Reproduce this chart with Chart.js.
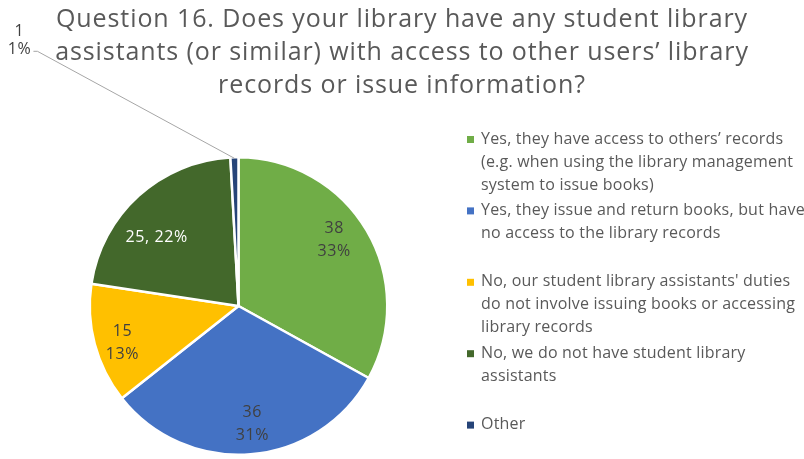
<!DOCTYPE html>
<html>
<head>
<meta charset="utf-8">
<script src="https://cdn.jsdelivr.net/npm/chart.js@4/dist/chart.umd.min.js"></script>
<style>
  html, body { margin: 0; padding: 0; background: #fff; }
  #wrap { width: 804px; height: 459px; position: relative; }
</style>
</head>
<body>
<div id="wrap"><canvas id="pieChart"></canvas></div>
<script>
// Dados do gráfico
const categorias = [
    ['Yes, they have access to others’ records', '(e.g. when using the library management', 'system to issue books)'],
    ['Yes, they issue and return books, but have', 'no access to the library records'],
    ["No, our student library assistants' duties", 'do not involve issuing books or accessing', 'library records'],
    ['No, we do not have student library', 'assistants'],
    ['Other']
];
const respostas = [38, 36, 15, 25, 1];
const cores = ['#70AD47', '#4472C4', '#FFC000', '#43682B', '#264478'];
const titulo = [
    'Question 16. Does your library have any student library',
    'assistants (or similar) with access to other users’ library',
    'records or issue information?'
];

const FONTE = '"Open Sans", "Noto Sans", sans-serif';
const total = respostas.reduce((acc, v) => acc + v, 0);

/**
 * Desenha título, legenda e rótulos das fatias
 */
const extrasPlugin = {
    id: 'extras',
    afterDraw(chart) {
        const ctx = chart.ctx;
        const meta = chart.getDatasetMeta(0);
        ctx.save();

        // Título
        ctx.fillStyle = '#595959';
        ctx.font = '25px ' + FONTE;
        ctx.letterSpacing = '0.9px';
        ctx.textAlign = 'center';
        ctx.textBaseline = 'middle';
        titulo.forEach((linha, i) => ctx.fillText(linha, 402, 20 + i * 33));

        // Legenda
        ctx.font = '16px ' + FONTE;
        ctx.letterSpacing = '0.2px';
        ctx.textAlign = 'left';
        categorias.forEach((linhas, i) => {
            const y = 139 + i * 71.4;
            ctx.fillStyle = cores[i];
            ctx.fillRect(467, y - 3, 7, 7);
            ctx.fillStyle = '#595959';
            linhas.forEach((l, j) => ctx.fillText(l, 481, y + j * 23));
        });

        // Rótulos de dados
        ctx.letterSpacing = '0.6px';
        meta.data.forEach((arc, i) => {
            const p = arc.getProps(['x', 'y', 'startAngle', 'endAngle', 'outerRadius'], true);
            const meio = (p.startAngle + p.endAngle) / 2;
            const valor = respostas[i];
            const pct = Math.round(valor / total * 100) + '%';
            ctx.font = '16px ' + FONTE;
            ctx.textAlign = 'center';
            if (valor / total < 0.03) {
                // rótulo externo com linha de chamada
                const ex = p.x + Math.cos(meio) * p.outerRadius;
                const ey = p.y + Math.sin(meio) * p.outerRadius;
                const lx = ex - 197, ly = ey - 106;
                ctx.strokeStyle = '#A6A6A6';
                ctx.lineWidth = 1;
                ctx.beginPath();
                ctx.moveTo(ex, ey + 1);
                ctx.lineTo(lx, ly);
                ctx.lineTo(lx - 4, ly);
                ctx.stroke();
                ctx.fillStyle = '#404040';
                ctx.fillText(String(valor), lx - 18, ly - 20);
                ctx.fillText(pct, lx - 18, ly - 2);
                return;
            }
            const r = p.outerRadius * (i === 3 ? 0.74 : 0.8);
            const cx = p.x + Math.cos(meio - 0.06) * r;
            const cy = p.y + Math.sin(meio - 0.06) * r;
            if (i === 3) {
                ctx.fillStyle = '#FFFFFF';
                ctx.fillText(valor + ', ' + pct, cx - 3, cy + 8);
            } else {
                ctx.fillStyle = '#404040';
                ctx.fillText(String(valor), cx - 3, cy - 11.5);
                ctx.fillText(pct, cx - 3, cy + 11.5);
            }
        });
        ctx.restore();
    }
};

new Chart(document.getElementById('pieChart'), {
    type: 'pie',
    data: {
        labels: categorias.map(c => c.join(' ')),
        datasets: [{
            data: respostas,
            backgroundColor: cores,
            borderColor: '#FFFFFF',
            borderWidth: 2.5
        }]
    },
    options: {
        responsive: true,
        maintainAspectRatio: false,
        animation: false,
        layout: {
            padding: { left: 88, right: 415, top: 156, bottom: 3 }
        },
        plugins: {
            legend: { display: false },
            title: { display: false },
            tooltip: { enabled: false }
        }
    },
    plugins: [extrasPlugin]
});
</script>
</body>
</html>
